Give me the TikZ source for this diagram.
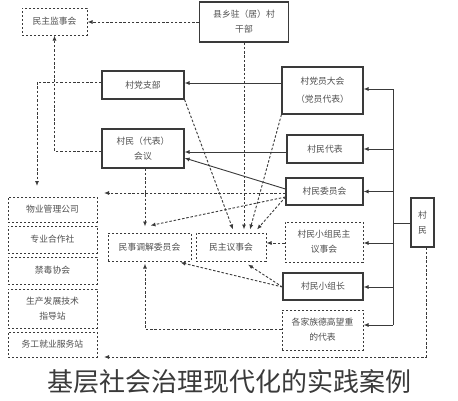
\documentclass[tikz,border=0pt]{standalone}
\usepackage{fontspec}
\setmainfont{Noto Sans CJK SC}
\usetikzlibrary{arrows.meta,calc}
\definecolor{ln}{HTML}{3A3A3A}
\definecolor{tx}{HTML}{505050}
\definecolor{cap}{HTML}{3A3A3A}
\begin{document}
\begin{tikzpicture}[x=1pt,y=-1pt,
  box/.style={draw=ln, line width=1.1pt, rectangle, inner sep=0pt, align=center, text=tx, font=\fontsize{8.8}{15}\selectfont},
  dbox/.style={box, line width=1pt, dash pattern=on 2.4pt off 1.6pt},
  plain/.style={draw=ln, line width=0.9pt},
  sol/.style={plain, -{Latex[length=5pt,width=4pt]}},
  dsh/.style={sol, dash pattern=on 2.5pt off 1.8pt},
]
\useasboundingbox[fill=white] (0,0) rectangle (458,400);

% top
\node[dbox, minimum width=65pt, minimum height=27pt] (jianshi) at (54.5,21.5) {民主监事会};
\node[box, minimum width=89pt, minimum height=40pt] (xiangcun) at (244,22) {县乡驻（居）村\\干部};

% middle left
\node[box, minimum width=82pt, minimum height=28pt] (dangzhi) at (143,85) {村党支部};
\node[box, minimum width=82pt, minimum height=39pt] (huiyi) at (143,148.5) {村民（代表）\\会议};

% right column
\node[box, minimum width=81pt, minimum height=47pt] (dangyuan) at (322.5,90.5) {村党员大会\\[3pt]（党员代表）};
\node[box, minimum width=76pt, minimum height=28pt] (daibiao) at (325,149) {村民代表};
\node[box, minimum width=77pt, minimum height=27pt] (weiyuan) at (324.5,191.5) {村民委员会};
\node[dbox, minimum width=78pt, minimum height=40pt] (yishi) at (324,242) {村民小组民主\\议事会};
\node[box, minimum width=80pt, minimum height=27pt] (zuzhang) at (323,286.5) {村民小组长};
\node[dbox, minimum width=81pt, minimum height=40pt] (jiazu) at (322.5,330) {各家族德高望重\\的代表};
\node[box, minimum width=23pt, minimum height=49pt] (cunmin) at (422.5,222.5) {村\\民};

% centre bottom
\node[dbox, minimum width=83pt, minimum height=28pt] (tiaojie) at (149.5,247) {民事调解委员会};
\node[dbox, minimum width=70pt, minimum height=28pt] (minzhu) at (231,247) {民主议事会};

% left column
\node[dbox, minimum width=89pt, minimum height=25pt] (wuye) at (52.5,209.5) {物业管理公司};
\node[dbox, minimum width=89pt, minimum height=27pt] (zhuanye) at (52.5,239.5) {专业合作社};
\node[dbox, minimum width=89pt, minimum height=27pt] (jindu) at (52.5,270.5) {禁毒协会};
\node[dbox, minimum width=89pt, minimum height=39pt] (shengchan) at (52.5,308.5) {生产发展技术\\指导站};
\node[dbox, minimum width=89pt, minimum height=25pt] (wugong) at (52.5,344.5) {务工就业服务站};

% caption
\node[font=\fontsize{26}{26}\selectfont, text=cap] (caption) at (229,382) {基层社会治理现代化的实践案例};

% free ends toward the left column
\coordinate (colTop) at (37,186);
\coordinate (colA) at (104,193);
\coordinate (colB) at (104,357);

% trunk from 村民
\coordinate (tr) at (393,223);
\coordinate (trTop) at (393,89);
\coordinate (trBot) at (393,325);
\draw[plain] (cunmin.west |- tr) -- (tr);
\draw[plain] (trTop) -- (trBot);
\draw[sol] (trTop) -- (dangyuan.east |- trTop);
\draw[sol] (trTop |- daibiao.east) -- (daibiao.east);
\draw[sol] (trTop |- weiyuan.east) -- (weiyuan.east);
\draw[sol] (trTop |- 0,243) -- (yishi.east |- 0,243);
\draw[sol] (trTop |- 0,287) -- (zuzhang.east |- 0,287);
\draw[sol] (trBot) -- (jiazu.east |- trBot);

% solid links to left
\draw[sol] (dangyuan.west |- 0,83) -- (dangzhi.east |- 0,83);
\draw[sol] (daibiao.west |- 0,152) -- (huiyi.east |- 0,152);
\draw[sol] (weiyuan.west |- 0,189) -- (huiyi.east |- 0,158);

% dashed links
\draw[dsh] (xiangcun.west) -- (jianshi.east |- xiangcun.west);
\draw[dsh] (dangzhi.west |- 0,82) -| (colTop);
\draw[dsh] (huiyi.west |- 0,151) -| (jianshi.south);
\draw[dsh] (xiangcun.south) -- ($(minzhu.north)+(13,-3)$);
\draw[dsh] (dangzhi.south east) -- ($(minzhu.north)+(2,-3)$);
\draw[dsh] (dangyuan.south west) -- ($(minzhu.north)+(19,-3)$);
\draw[dsh] (weiyuan.west |- 0,193) -- (colA);
\draw[dsh] (weiyuan.west |- 0,197) -- ($(minzhu.north)+(26,-3)$);
\draw[dsh] (weiyuan.west |- 0,197) -- ($(tiaojie.north)+(1,-7)$);
\draw[dsh] ($(huiyi.south)+(2,0)$) -- ($(huiyi.south |- tiaojie.north)+(2,-6)$);
\draw[dsh] (yishi.west |- 0,243) -- (minzhu.east |- 0,243);
\draw[dsh] (zuzhang.west |- 0,287) -- ($(minzhu.south)+(17,3)$);
\draw[dsh] (zuzhang.west |- 0,287) -- ($(tiaojie.south east)+(-11,1)$);
\draw[dsh] (jiazu.west |- 0,329) -| ($(tiaojie.south)+(-4.5,2)$);
\draw[dsh] ($(cunmin.south)+(3.5,0)$) |- (colB);
\end{tikzpicture}
\end{document}
